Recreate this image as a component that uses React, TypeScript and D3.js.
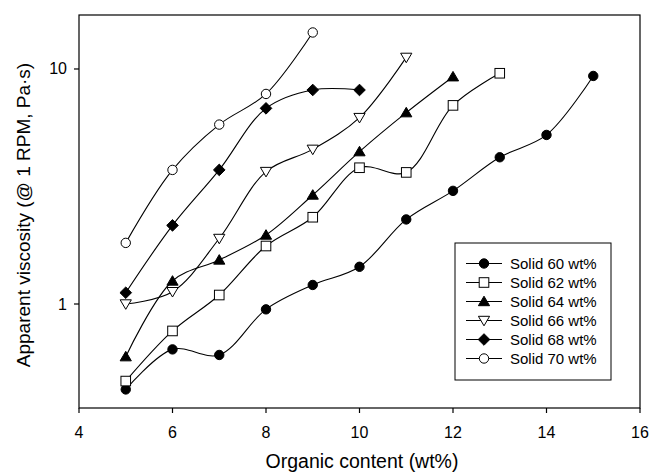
import React from "react";
import * as d3 from "d3";

const organic = [5, 6, 7, 8, 9, 10, 11, 12, 13, 14, 15];
const solid60 = [0.433, 0.641, 0.607, 0.949, 1.205, 1.44, 2.29, 3.03, 4.21, 5.24, 9.34];
const solid62 = [0.47, 0.768, 1.092, 1.765, 2.34, 3.8, 3.63, 7.0, 9.59];
const solid64 = [0.597, 1.253, 1.54, 1.966, 2.91, 4.45, 6.52, 9.27];
const solid66 = [1.0, 1.128, 1.9, 3.66, 4.55, 6.21, 11.2];
const solid68 = [1.117, 2.16, 3.72, 6.8, 8.14, 8.14];
const solid70 = [1.82, 3.72, 5.8, 7.83, 14.3];

const seriesNames = ["Solid 60 wt%", "Solid 62 wt%", "Solid 64 wt%", "Solid 66 wt%", "Solid 68 wt%", "Solid 70 wt%"];
const seriesValues = [solid60, solid62, solid64, solid66, solid68, solid70];
const markerTypes = ["circleFilled", "squareOpen", "triangleFilled", "triangleDownOpen", "diamondFilled", "circleOpen"];

const xTicks = [4, 6, 8, 10, 12, 14, 16];
const yTicks = [1, 10];

const W = 650, H = 473;
const L = 79, R = 640, T = 15, B = 408;
const FONT = "'Liberation Sans', Arial, sans-serif";

function Marker({ type, x, y }: { type: string; x: number; y: number }) {
  const filled = type.includes("Filled");
  const fill = filled ? "#000" : "#fff";
  const common = { fill, stroke: "#000", strokeWidth: 1 };
  if (type.startsWith("circle")) return <circle cx={x} cy={y} r={4.7} {...common} />;
  if (type.startsWith("square")) return <rect x={x - 4.8} y={y - 4.8} width={9.6} height={9.6} {...common} />;
  if (type.startsWith("triangleDown")) {
    const s = 5.6;
    return <path d={`M${x - s},${y - s * 0.75}L${x + s},${y - s * 0.75}L${x},${y + s * 0.95}Z`} {...common} />;
  }
  if (type.startsWith("triangle")) {
    const s = 5.6;
    return <path d={`M${x - s},${y + s * 0.75}L${x + s},${y + s * 0.75}L${x},${y - s * 0.95}Z`} {...common} />;
  }
  if (type.startsWith("diamond")) {
    const s = 5.8;
    return <path d={`M${x},${y - s}L${x + s},${y}L${x},${y + s}L${x - s},${y}Z`} {...common} />;
  }
  return null;
}

export default function App() {
  const x = d3.scaleLinear().domain([4, 16]).range([L, R]);
  const y = d3.scaleLog().domain([0.361, 16.97]).range([B, T]);
  const line = d3
    .line<[number, number]>()
    .x((d) => x(d[0]))
    .y((d) => y(d[1]))
    .curve(d3.curveCatmullRom.alpha(0.5));

  const legX = 455, legY = 243, legW = 156, legH = 137;
  const rowY0 = 263.5, rowDy = 19;

  return (
    <svg width={W} height={H} style={{ position: "absolute", left: 0, top: 0, background: "#fff" }} fontFamily={FONT}>
      <rect x={0} y={0} width={W} height={H} fill="#fff" />
      {seriesValues.map((vals, i) => {
        const pts: [number, number][] = vals.map((v, j) => [organic[j], v]);
        return <path key={"l" + i} d={line(pts) || ""} fill="none" stroke="#000" strokeWidth={1.1} />;
      })}
      {seriesValues.map((vals, i) =>
        vals.map((v, j) => <Marker key={`m${i}-${j}`} type={markerTypes[i]} x={x(organic[j])} y={y(v)} />)
      )}
      <rect x={L} y={T} width={R - L} height={B - T} fill="none" stroke="#000" strokeWidth={1.2} />
      {xTicks.map((t) => (
        <g key={"xt" + t}>
          <line x1={x(t)} x2={x(t)} y1={B} y2={B + 5} stroke="#000" strokeWidth={1.2} />
          <text x={x(t)} y={438} textAnchor="middle" fontSize={16} fill="#000">
            {t}
          </text>
        </g>
      ))}
      {yTicks.map((t) => (
        <g key={"yt" + t}>
          <line x1={L - 5} x2={L} y1={y(t)} y2={y(t)} stroke="#000" strokeWidth={1.2} />
          <text x={67} y={y(t) + 5.5} textAnchor="end" fontSize={16} fill="#000">
            {t}
          </text>
        </g>
      ))}
      <text x={362} y={468} textAnchor="middle" fontSize={19.5} fill="#000">
        Organic content (wt%)
      </text>
      <text
        transform={`translate(30,215) rotate(-90)`}
        textAnchor="middle"
        fontSize={19}
        fill="#000"
      >
        Apparent viscosity (@ 1 RPM, Pa·s)
      </text>
      <rect x={legX} y={legY} width={legW} height={legH} fill="#fff" stroke="#000" strokeWidth={1} />
      {seriesNames.map((name, i) => {
        const ry = rowY0 + i * rowDy;
        return (
          <g key={"lg" + i}>
            <line x1={466} x2={502} y1={ry} y2={ry} stroke="#000" strokeWidth={1.1} />
            <Marker type={markerTypes[i]} x={484} y={ry} />
            <text x={510} y={ry + 5} fontSize={15} fill="#000">
              {name}
            </text>
          </g>
        );
      })}
    </svg>
  );
}
